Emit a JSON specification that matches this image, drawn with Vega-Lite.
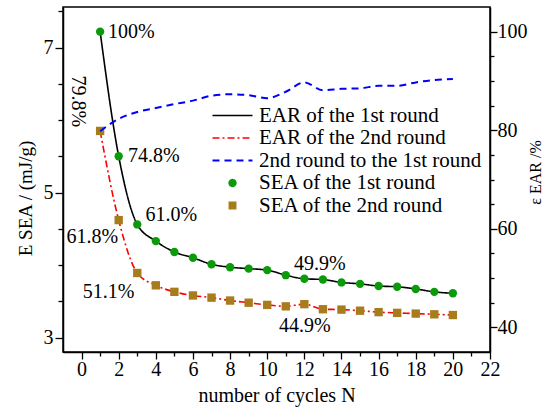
{
  "$schema": "https://vega.github.io/schema/vega-lite/v6.json",
  "width": 427,
  "height": 345,
  "autosize": "none",
  "padding": {"left": 63, "top": 7, "right": 55, "bottom": 59},
  "background": "white",
  "config": {
    "font": "Liberation Serif, Times New Roman, serif",
    "text": {"font": "Liberation Serif, Times New Roman, serif"},
    "legend": {"labelFont": "Liberation Serif, Times New Roman, serif"},
    "view": {"stroke": "black", "strokeWidth": 1.5},
    "axis": {
      "grid": false,
      "labelFont": "Liberation Serif, Times New Roman, serif",
      "labelFontSize": 20,
      "labelColor": "black",
      "titleFont": "Liberation Serif, Times New Roman, serif",
      "titleFontSize": 20,
      "titleFontWeight": "normal",
      "titleColor": "black",
      "domainColor": "black",
      "domainWidth": 1.5,
      "tickColor": "black",
      "tickWidth": 1.3
    }
  },
  "datasets": {
    "sea": [
      {"N": 1, "E": 7.22, "line": "EAR of the 1st round", "point": "SEA of the 1st round"},
      {"N": 2, "E": 5.5, "line": "EAR of the 1st round", "point": "SEA of the 1st round"},
      {"N": 3, "E": 4.56, "line": "EAR of the 1st round", "point": "SEA of the 1st round"},
      {"N": 4, "E": 4.33, "line": "EAR of the 1st round", "point": "SEA of the 1st round"},
      {"N": 5, "E": 4.18, "line": "EAR of the 1st round", "point": "SEA of the 1st round"},
      {"N": 6, "E": 4.1, "line": "EAR of the 1st round", "point": "SEA of the 1st round"},
      {"N": 7, "E": 4.01, "line": "EAR of the 1st round", "point": "SEA of the 1st round"},
      {"N": 8, "E": 3.97, "line": "EAR of the 1st round", "point": "SEA of the 1st round"},
      {"N": 9, "E": 3.95, "line": "EAR of the 1st round", "point": "SEA of the 1st round"},
      {"N": 10, "E": 3.93, "line": "EAR of the 1st round", "point": "SEA of the 1st round"},
      {"N": 11, "E": 3.86, "line": "EAR of the 1st round", "point": "SEA of the 1st round"},
      {"N": 12, "E": 3.81, "line": "EAR of the 1st round", "point": "SEA of the 1st round"},
      {"N": 13, "E": 3.8, "line": "EAR of the 1st round", "point": "SEA of the 1st round"},
      {"N": 14, "E": 3.76, "line": "EAR of the 1st round", "point": "SEA of the 1st round"},
      {"N": 15, "E": 3.74, "line": "EAR of the 1st round", "point": "SEA of the 1st round"},
      {"N": 16, "E": 3.71, "line": "EAR of the 1st round", "point": "SEA of the 1st round"},
      {"N": 17, "E": 3.7, "line": "EAR of the 1st round", "point": "SEA of the 1st round"},
      {"N": 18, "E": 3.67, "line": "EAR of the 1st round", "point": "SEA of the 1st round"},
      {"N": 19, "E": 3.63, "line": "EAR of the 1st round", "point": "SEA of the 1st round"},
      {"N": 20, "E": 3.61, "line": "EAR of the 1st round", "point": "SEA of the 1st round"},
      {"N": 1, "E": 5.85, "line": "EAR of the 2nd round", "point": "SEA of the 2nd round"},
      {"N": 2, "E": 4.62, "line": "EAR of the 2nd round", "point": "SEA of the 2nd round"},
      {"N": 3, "E": 3.89, "line": "EAR of the 2nd round", "point": "SEA of the 2nd round"},
      {"N": 4, "E": 3.72, "line": "EAR of the 2nd round", "point": "SEA of the 2nd round"},
      {"N": 5, "E": 3.63, "line": "EAR of the 2nd round", "point": "SEA of the 2nd round"},
      {"N": 6, "E": 3.58, "line": "EAR of the 2nd round", "point": "SEA of the 2nd round"},
      {"N": 7, "E": 3.55, "line": "EAR of the 2nd round", "point": "SEA of the 2nd round"},
      {"N": 8, "E": 3.51, "line": "EAR of the 2nd round", "point": "SEA of the 2nd round"},
      {"N": 9, "E": 3.48, "line": "EAR of the 2nd round", "point": "SEA of the 2nd round"},
      {"N": 10, "E": 3.45, "line": "EAR of the 2nd round", "point": "SEA of the 2nd round"},
      {"N": 11, "E": 3.43, "line": "EAR of the 2nd round", "point": "SEA of the 2nd round"},
      {"N": 12, "E": 3.46, "line": "EAR of the 2nd round", "point": "SEA of the 2nd round"},
      {"N": 13, "E": 3.39, "line": "EAR of the 2nd round", "point": "SEA of the 2nd round"},
      {"N": 14, "E": 3.385, "line": "EAR of the 2nd round", "point": "SEA of the 2nd round"},
      {"N": 15, "E": 3.37, "line": "EAR of the 2nd round", "point": "SEA of the 2nd round"},
      {"N": 16, "E": 3.35, "line": "EAR of the 2nd round", "point": "SEA of the 2nd round"},
      {"N": 17, "E": 3.34, "line": "EAR of the 2nd round", "point": "SEA of the 2nd round"},
      {"N": 18, "E": 3.33, "line": "EAR of the 2nd round", "point": "SEA of the 2nd round"},
      {"N": 19, "E": 3.32, "line": "EAR of the 2nd round", "point": "SEA of the 2nd round"},
      {"N": 20, "E": 3.31, "line": "EAR of the 2nd round", "point": "SEA of the 2nd round"}
    ],
    "ratio": [
      {"N": 1, "R": 79.8, "line": "2nd round to the 1st round"},
      {"N": 2, "R": 82.3, "line": "2nd round to the 1st round"},
      {"N": 3, "R": 83.7, "line": "2nd round to the 1st round"},
      {"N": 4, "R": 84.5, "line": "2nd round to the 1st round"},
      {"N": 5, "R": 85.3, "line": "2nd round to the 1st round"},
      {"N": 6, "R": 86.0, "line": "2nd round to the 1st round"},
      {"N": 7, "R": 87.0, "line": "2nd round to the 1st round"},
      {"N": 8, "R": 87.3, "line": "2nd round to the 1st round"},
      {"N": 9, "R": 87.1, "line": "2nd round to the 1st round"},
      {"N": 10, "R": 86.5, "line": "2nd round to the 1st round"},
      {"N": 11, "R": 87.8, "line": "2nd round to the 1st round"},
      {"N": 12, "R": 89.7, "line": "2nd round to the 1st round"},
      {"N": 13, "R": 88.1, "line": "2nd round to the 1st round"},
      {"N": 14, "R": 88.4, "line": "2nd round to the 1st round"},
      {"N": 15, "R": 88.5, "line": "2nd round to the 1st round"},
      {"N": 16, "R": 89.0, "line": "2nd round to the 1st round"},
      {"N": 17, "R": 89.0, "line": "2nd round to the 1st round"},
      {"N": 18, "R": 89.7, "line": "2nd round to the 1st round"},
      {"N": 19, "R": 90.2, "line": "2nd round to the 1st round"},
      {"N": 20, "R": 90.4, "line": "2nd round to the 1st round"}
    ],
    "notes": [
      {"N": 1.42, "E": 7.22, "text": "100%"},
      {"N": 2.5, "E": 5.5, "text": "74.8%"},
      {"N": 3.45, "E": 4.69, "text": "61.0%"},
      {"N": -0.81, "E": 4.39, "text": "61.8%"},
      {"N": 0.07, "E": 3.625, "text": "51.1%"},
      {"N": 11.44, "E": 4.02, "text": "49.9%"},
      {"N": 10.63, "E": 3.16, "text": "44.9%"}
    ],
    "vnote": [
      {"N": -0.2, "E": 6.26, "text": "79.8%"}
    ]
  },
  "encoding": {
    "x": {
      "field": "N", "type": "quantitative",
      "scale": {"domain": [-1, 22], "nice": false, "zero": false},
      "axis": {
        "title": "number of cycles N",
        "values": [0,1,2,3,4,5,6,7,8,9,10,11,12,13,14,15,16,17,18,19,20,21,22],
        "labelExpr": "datum.value % 2 == 0 ? format(datum.value, 'd') : ''",
        "tickSize": {"condition": {"test": "datum.value % 2 == 0", "value": 7}, "value": 4},
        "labelPadding": 0,
        "titlePadding": 6,
        "labelFlush": false,
        "labelOverlap": false
      }
    }
  },
  "layer": [
    {
      "encoding": {
        "y": {
          "field": "E", "type": "quantitative",
          "scale": {"domain": [2.8, 7.56], "nice": false, "zero": false},
          "axis": {
            "title": "E SEA / (mJ/g)",
            "titleFontSize": 19,
            "values": [3, 3.5, 4, 4.5, 5, 5.5, 6, 6.5, 7, 7.5],
            "labelExpr": "datum.value % 2 == 1 ? format(datum.value, 'd') : ''",
            "tickSize": {"condition": {"test": "datum.value % 2 == 1", "value": 8}, "value": 5},
            "labelPadding": 2,
            "titlePadding": 8,
            "titleY": 191,
            "labelFlush": false,
            "labelOverlap": false
          }
        }
      },
      "layer": [
        {
          "data": {"name": "sea"},
          "mark": {"type": "line", "interpolate": "monotone", "strokeWidth": 1.6, "clip": false},
          "encoding": {
            "color": {
              "field": "line", "type": "nominal",
              "scale": {
                "domain": ["EAR of the 1st round", "EAR of the 2nd round", "2nd round to the 1st round", "SEA of the 1st round", "SEA of the 2nd round"],
                "range": ["#000000", "#ff0000", "#0000ff", "#0a9a0a", "#a67c1d"]
              },
              "legend": {
                "title": null,
                "orient": "none",
                "legendX": 159,
                "legendY": 98,
                "padding": 0,
                "rowPadding": 0.5,
                "labelFont": "Liberation Serif, Times New Roman, serif",
                "labelFontSize": 21,
                "labelColor": "black",
                "labelOffset": 16,
                "labelLimit": 400,
                "symbolType": "M-2,0H2",
                "symbolSize": 400,
                "symbolStrokeWidth": 1.6,
                "encode": {
                  "symbols": {
                    "update": {
                      "shape": {"signal": "datum.value == 'SEA of the 1st round' ? 'circle' : datum.value == 'SEA of the 2nd round' ? 'square' : 'M-2,0H2'"},
                      "size": {"signal": "datum.value == 'SEA of the 1st round' ? 45 : datum.value == 'SEA of the 2nd round' ? 40 : 400"},
                      "strokeDash": {"signal": "datum.value == 'EAR of the 2nd round' ? [7,3,2,3] : datum.value == '2nd round to the 1st round' ? [7,5] : [1,0]"},
                      "fill": {"signal": "datum.value == 'SEA of the 1st round' ? '#0a9a0a' : datum.value == 'SEA of the 2nd round' ? '#a67c1d' : 'transparent'"},
                      "stroke": {"signal": "datum.value == 'EAR of the 1st round' ? '#000000' : datum.value == 'EAR of the 2nd round' ? '#ff0000' : datum.value == '2nd round to the 1st round' ? '#0000ff' : 'transparent'"},
                      "strokeWidth": {"signal": "datum.value == '2nd round to the 1st round' ? 2 : 1.6"},
                      "opacity": {"value": 1}
                    }
                  }
                }
              }
            },
            "strokeDash": {
              "field": "line", "type": "nominal",
              "scale": {"domain": ["EAR of the 1st round", "EAR of the 2nd round"], "range": [[1, 0], [7, 3, 2, 3]]},
              "legend": null
            }
          }
        },
        {
          "data": {"name": "sea"},
          "mark": {"type": "point", "filled": true, "opacity": 1, "clip": false},
          "encoding": {
            "color": {"field": "point", "type": "nominal"},
            "shape": {
              "field": "point", "type": "nominal",
              "scale": {"domain": ["SEA of the 1st round", "SEA of the 2nd round"], "range": ["circle", "square"]},
              "legend": null
            },
            "size": {"value": 70}
          }
        },
        {
          "data": {"name": "notes"},
          "mark": {"type": "text", "align": "left", "baseline": "middle", "font": "Liberation Serif, Times New Roman, serif", "fontSize": 20, "color": "black", "clip": false},
          "encoding": {"text": {"field": "text"}}
        },
        {
          "data": {"name": "vnote"},
          "mark": {"type": "text", "align": "center", "baseline": "middle", "angle": 90, "font": "Liberation Serif, Times New Roman, serif", "fontSize": 20, "color": "black", "clip": false},
          "encoding": {"text": {"field": "text"}}
        }
      ]
    },
    {
      "data": {"name": "ratio"},
      "mark": {"type": "line", "interpolate": "monotone", "strokeWidth": 2, "strokeDash": [7, 5], "clip": false},
      "encoding": {
        "y": {
          "field": "R", "type": "quantitative",
          "scale": {"domain": [35, 105], "nice": false, "zero": false},
          "axis": {
            "orient": "right",
            "title": "ε EAR /%",
            "titleFontSize": 16,
            "titleAngle": 270,
            "titleBaseline": "top",
            "values": [40, 45, 50, 55, 60, 65, 70, 75, 80, 85, 90, 95, 100],
            "labelExpr": "datum.value % 20 == 0 ? format(datum.value, 'd') : ''",
            "tickSize": {"condition": {"test": "datum.value % 20 == 0", "value": 7}, "value": 4},
            "labelPadding": 0,
            "titlePadding": 0,
            "titleY": 165,
            "labelFlush": false,
            "labelOverlap": false
          }
        },
        "color": {"field": "line", "type": "nominal"}
      }
    }
  ],
  "resolve": {"scale": {"y": "independent"}}
}
